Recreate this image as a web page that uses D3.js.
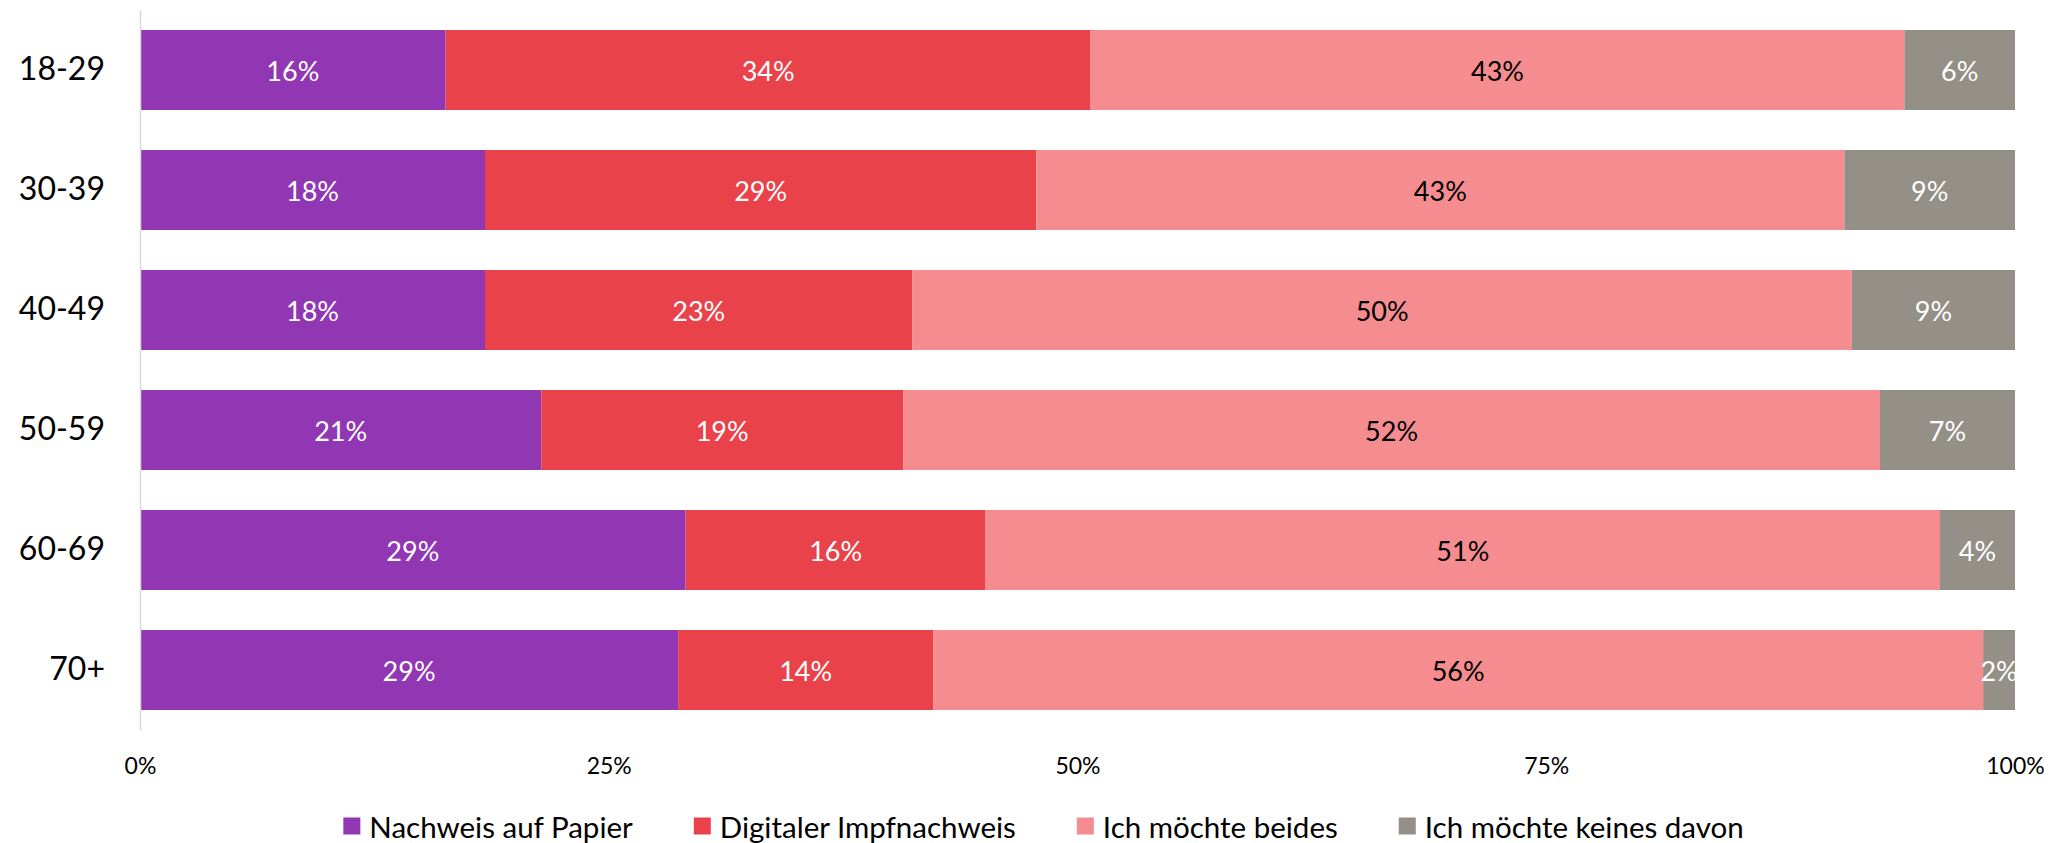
<head>
    <meta charset="utf-8">
    <style> body { margin: 0; background: #fff; } text { font-family: Lato, "Open Sans", sans-serif; } </style>
    <script src="https://d3js.org/d3.v7.min.js"></script>
</head>
<body>
    <div id="chart"></div>
    <script>

        // Altersgruppen
        var groups = ["18-29", "30-39", "40-49", "50-59", "60-69", "70+"];

        var seriesNames = ["Nachweis auf Papier", "Digitaler Impfnachweis", "Ich möchte beides", "Ich möchte keines davon"];
        var seriesColors = ["#9137B4", "#EA424A", "#F48C90", "#948F87"];
        var labelColors = ["#ffffff", "#ffffff", "#000000", "#ffffff"];

        // Anteile in %, je Altersgruppe
        var papier  = [16.3, 18.4, 18.4, 21.4, 29.1, 28.7];
        var digital = [34.4, 29.4, 22.8, 19.3, 16.0, 13.6];
        var beides  = [43.4, 43.1, 50.1, 52.1, 50.9, 56.0];
        var keines  = [5.9, 9.1, 8.7, 7.2, 4.0, 1.7];

        var xTicks = [0, 25, 50, 75, 100];

        var W = 2057, H = 843;
        var margin = { top: 10, right: 42, bottom: 113, left: 140 };
        var width = W - margin.left - margin.right,
            height = H - margin.top - margin.bottom;

        var svg = d3.select("#chart").append("svg")
            .attr("width", W)
            .attr("height", H);

        var focus = svg.append("g")
            .attr("transform", "translate(" + margin.left + "," + margin.top + ")");

        var x = d3.scaleLinear()
            .domain([0, 100])
            .range([0, width]);

        var y = d3.scaleBand()
            .domain(groups)
            .range([0, height])
            .paddingInner(1 / 3)
            .paddingOuter(1 / 6);

        var data = groups.map(function(g, i) {
            return { group: g, s0: papier[i], s1: digital[i], s2: beides[i], s3: keines[i] };
        });

        var stack = d3.stack().keys(["s0", "s1", "s2", "s3"]);
        var stacked = stack(data);

        var layers = focus.selectAll(".layer")
            .data(stacked)
            .enter().append("g")
            .attr("class", "layer")
            .attr("fill", function(d, i) { return seriesColors[i]; });

        layers.selectAll("rect")
            .data(function(d) { return d; })
            .enter().append("rect")
            .attr("x", function(d) { return x(d[0]); })
            .attr("y", function(d) { return y(d.data.group); })
            .attr("width", function(d) { return x(d[1]) - x(d[0]); })
            .attr("height", y.bandwidth());

        // Werte in den Balken
        stacked.forEach(function(layer, i) {
            focus.append("g").selectAll("text")
                .data(layer)
                .enter().append("text")
                .attr("x", function(d) { return (x(d[0]) + x(d[1])) / 2; })
                .attr("y", function(d) { return y(d.data.group) + y.bandwidth() / 2; })
                .attr("text-anchor", "middle")
                .attr("dominant-baseline", "central")
                .attr("font-size", 27)
                .attr("fill", labelColors[i])
                .text(function(d) { return Math.round(d[1] - d[0]) + "%"; });
        });

        // y-Achse
        var yx = focus.append("g")
            .call(d3.axisLeft(y).tickSize(0).tickPadding(35));
        yx.select("path").attr("stroke", "#d9d9d9").attr("stroke-width", 1.5);
        yx.selectAll("text").attr("font-size", 32).attr("fill", "#000").attr("font-family", "Lato");

        // x-Achse (nur Beschriftungen)
        var xx = focus.append("g")
            .attr("transform", "translate(0," + height + ")")
            .call(d3.axisBottom(x).tickValues(xTicks).tickSize(0).tickPadding(28)
                .tickFormat(function(d) { return d + "%"; }));
        xx.select("path").remove();
        xx.selectAll("text").attr("font-size", 23).attr("fill", "#000").attr("font-family", "Lato");

        // Legende
        var legend = svg.append("g");
        var items = legend.selectAll("g")
            .data(seriesNames)
            .enter().append("g");

        items.append("rect")
            .attr("width", 17)
            .attr("height", 17)
            .attr("y", -8.5)
            .attr("fill", function(d, i) { return seriesColors[i]; });

        items.append("text")
            .attr("x", 26)
            .attr("dominant-baseline", "central")
            .attr("font-size", 29.5)
            .attr("fill", "#000")
            .text(function(d) { return d; });

        var offs = 0, pos = [];
        items.each(function() {
            pos.push(offs);
            offs += 26 + this.querySelector("text").getComputedTextLength() + 61;
        });
        var total = offs - 61;
        var startX = 1043.5 - total / 2;
        items.attr("transform", function(d, i) { return "translate(" + (startX + pos[i]) + ",826)"; });

    </script>
</body>
